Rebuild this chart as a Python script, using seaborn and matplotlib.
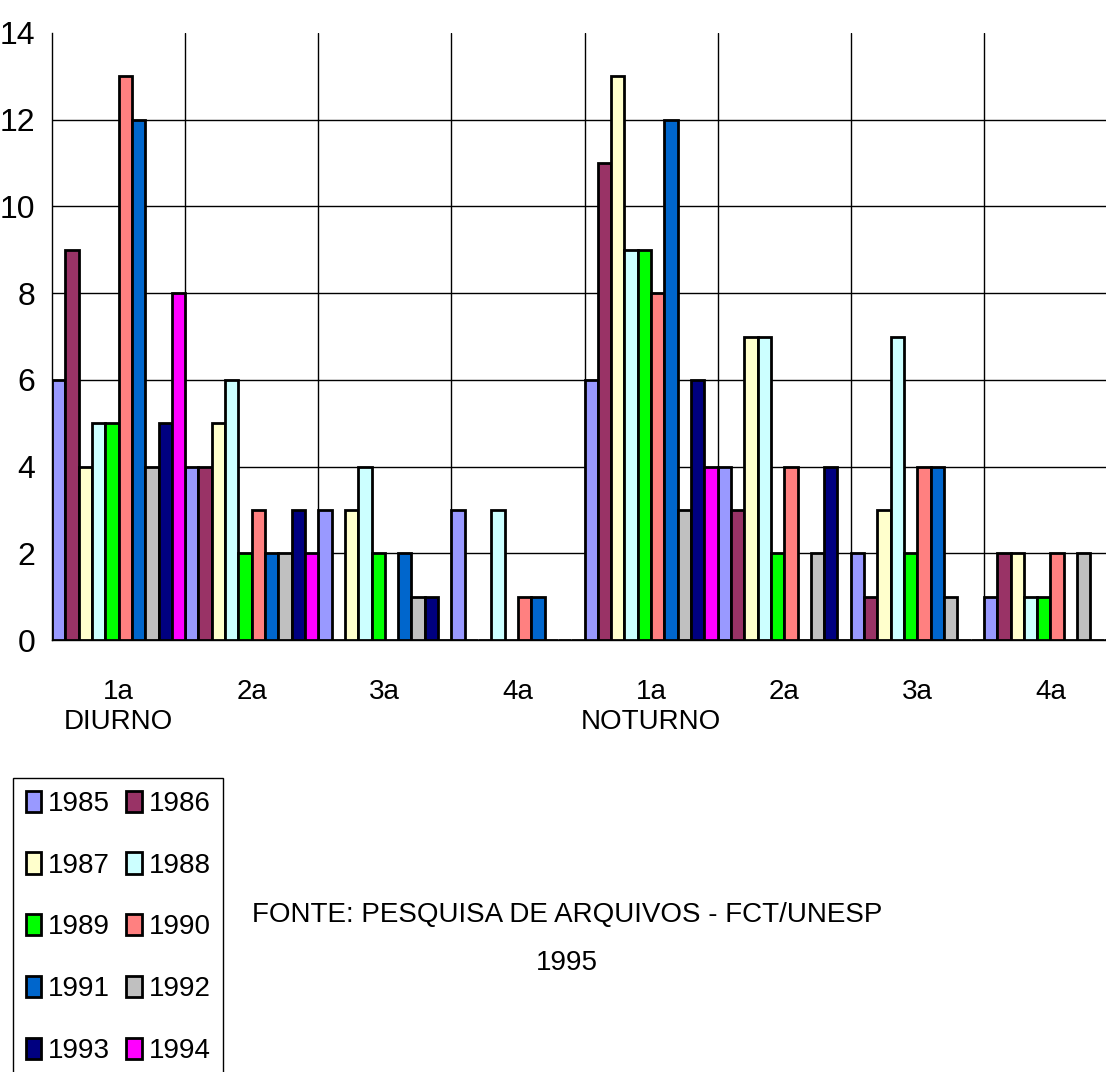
import numpy as np
import pandas as pd
import matplotlib
matplotlib.use("Agg")
import matplotlib.pyplot as plt
from matplotlib.transforms import blended_transform_factory
import seaborn as sns

# Alunos por série e turno, por ano de ingresso
years = ["1985", "1986", "1987", "1988", "1989", "1990", "1991", "1992", "1993", "1994"]
turnos = ["DIURNO", "NOTURNO"]
series_labels = ["1a", "2a", "3a", "4a"]
y_ticks = [0, 2, 4, 6, 8, 10, 12, 14]

v1985 = [6, 4, 3, 3, 6, 4, 2, 1]
v1986 = [9, 4, 0, 0, 11, 3, 1, 2]
v1987 = [4, 5, 3, 0, 13, 7, 3, 2]
v1988 = [5, 6, 4, 3, 9, 7, 7, 1]
v1989 = [5, 2, 2, 0, 9, 2, 2, 1]
v1990 = [13, 3, 0, 1, 8, 4, 4, 2]
v1991 = [12, 2, 2, 1, 12, 0, 4, 0]
v1992 = [4, 2, 1, 0, 3, 2, 1, 2]
v1993 = [5, 3, 1, 0, 6, 4, 0, 0]
v1994 = [8, 2, 0, 0, 4, 0, 0, 0]

colors = ["#9999FF", "#993366", "#FFFFCC", "#CCFFFF", "#00FF00",
          "#FF8080", "#0066CC", "#C0C0C0", "#000080", "#FF00FF"]

source_line1 = "FONTE: PESQUISA DE ARQUIVOS - FCT/UNESP"
source_line2 = "1995"

categories = [f"{t} {s}" for t in turnos for s in series_labels]
values = [v1985, v1986, v1987, v1988, v1989, v1990, v1991, v1992, v1993, v1994]
rows = []
for year, vals in zip(years, values):
    for cat, v in zip(categories, vals):
        rows.append({"categoria": cat, "ano": year, "valor": v})
df = pd.DataFrame(rows)

sns.set_style("white")
plt.rcParams["font.family"] = ["Liberation Sans Narrow", "Liberation Sans", "DejaVu Sans"]
for key in ["text.color", "axes.labelcolor", "xtick.color", "ytick.color"]:
    plt.rcParams[key] = "black"

W, H = 1106, 1072
fig = plt.figure(figsize=(W / 100, H / 100), dpi=100)
ax = fig.add_axes([52 / W, 1 - 640 / H, 1065 / W, 607 / H])

sns.barplot(data=df, x="categoria", y="valor", hue="ano", order=categories,
            hue_order=years, palette=colors, width=1.0, gap=0,
            edgecolor="black", linewidth=2.0, saturation=1, ax=ax, zorder=3)

handles, labels = ax.get_legend_handles_labels()
if ax.get_legend() is not None:
    ax.get_legend().remove()

ax.set_xlim(-0.5, len(categories) - 0.5)
ax.set_ylim(0, 14)
ax.set_xlabel("")
ax.set_ylabel("")

# Y axis
ax.set_yticks(y_ticks)
ax.set_yticklabels([str(t) for t in y_ticks], fontsize=23)
ax.tick_params(axis="y", direction="out", length=7, width=1, color="black", pad=5)
for yv in y_ticks[1:-1]:
    ax.axhline(yv, color="black", lw=1, zorder=1)

# X axis: labels centred on categories, tick lines on category boundaries
ax.set_xticks(np.arange(len(categories)))
ax.set_xticklabels(series_labels * len(turnos), fontsize=20)
ax.tick_params(axis="x", which="major", length=0, pad=28)
ax.set_xticks(np.arange(-0.5, len(categories), 1.0), minor=True)
ax.tick_params(axis="x", which="minor", direction="out", length=11, width=1, color="black")
for xb in np.arange(0.5, len(categories), 1.0):
    ax.axvline(xb, color="black", lw=1, zorder=1)

for side in ["top", "right"]:
    ax.spines[side].set_visible(False)
for side in ["left", "bottom"]:
    ax.spines[side].set_color("black")
    ax.spines[side].set_linewidth(1)

# Turno labels under the first series of each turno
trans = blended_transform_factory(ax.transData, ax.transAxes)
for i, t in enumerate(turnos):
    ax.text(i * len(series_labels), (640 - 722) / 607, t, transform=trans,
            ha="center", va="center", fontsize=20)

# Legend filled row by row: 1985 1986 / 1987 1988 / ...
ncol = 2
nrow = len(handles) // ncol
order = [r * ncol + c for c in range(ncol) for r in range(nrow)]
leg = fig.legend([handles[i] for i in order], [labels[i] for i in order],
                 ncol=ncol, loc="upper left",
                 bbox_to_anchor=(13 / W, 1 - 778 / H), bbox_transform=fig.transFigure,
                 fontsize=20, frameon=True, fancybox=False, edgecolor="black",
                 framealpha=1, borderaxespad=0, borderpad=0.45, labelspacing=1.28,
                 handlelength=0.55, handleheight=0.8, handletextpad=0.25,
                 columnspacing=0.6)
leg.get_frame().set_linewidth(1)

fig.text(567 / W, 1 - 915 / H, source_line1, ha="center", va="center", fontsize=20)
fig.text(567 / W, 1 - 963 / H, source_line2, ha="center", va="center", fontsize=20)

fig.savefig("out.png", dpi=100)
